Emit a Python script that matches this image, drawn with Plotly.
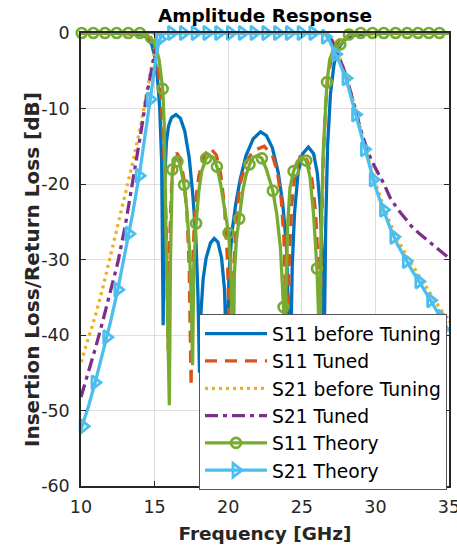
import plotly.graph_objects as go

# ---------------- data ----------------
# S11 before tuning
s11b_f = [10, 13, 14, 14.5, 14.8, 15.0, 15.2, 15.35, 15.48, 15.58, 15.68, 15.8, 15.95, 16.15, 16.45,
          16.75, 17.05, 17.35, 17.6, 17.8, 17.95, 18.05, 18.15, 18.3, 18.5, 18.8, 19.05, 19.3, 19.55,
          19.75, 19.92, 20.05, 20.25, 20.5, 20.8, 21.2, 21.7, 22.2, 22.6, 23.0, 23.4, 23.7, 23.95,
          24.12, 24.22, 24.35, 24.5, 24.75, 25.05, 25.45, 25.8, 26.05, 26.25, 26.4, 26.52, 26.62,
          26.75, 26.95, 27.2, 27.5, 27.9, 28.5, 30, 35]
s11b_db = [0, -0.05, -0.2, -0.6, -1.5, -3.0, -6.0, -10, -17, -38.7, -20, -14.5, -12.3, -11.2, -10.8,
           -11.3, -13.0, -16.5, -21.5, -27, -35, -45, -37, -32.5, -29.8, -27.8, -27.2, -27.7, -29.8,
           -34, -45, -32, -26.5, -22.8, -19.5, -16.3, -14.0, -13.1, -13.6, -15.2, -18.5, -22.5, -28,
           -38, -45, -31, -24, -18.5, -16.0, -15.1, -16.0, -18.5, -23, -30, -42, -26,
           -15, -8, -4, -2, -0.9, -0.3, -0.05, 0]

# S11 tuned
s11t_f = [10, 13, 14, 14.6, 14.9, 15.1, 15.3, 15.5, 15.7, 15.82, 15.92, 16.02, 16.15, 16.3, 16.5,
          16.75, 17.0, 17.2, 17.35, 17.48, 17.6, 17.75, 18.0, 18.35, 18.78, 19.2, 19.5, 19.75, 19.95,
          20.1, 20.22, 20.35, 20.55, 20.8, 21.2, 21.7, 22.45, 23.0, 23.35, 23.6, 23.78, 23.9, 24.0,
          24.12, 24.3, 24.55, 24.95, 25.35, 25.7, 25.95, 26.12, 26.22, 26.32, 26.45, 26.6, 26.8,
          27.1, 27.5, 28.0, 29, 35]
s11t_db = [0, -0.05, -0.2, -0.6, -1.5, -3.0, -5.8, -10.5, -19, -28, -42, -28, -20.5, -17.2, -15.9,
           -16.6, -19.5, -24, -31, -46.8, -30, -23, -19, -16.3, -15.2, -16.2, -18.8, -23, -30,
           -40, -48, -32, -24.5, -20, -17.2, -15.6, -15.0, -16.2, -18.5, -22, -27, -34, -46,
           -32, -23, -18.5, -16.0, -16.8, -19.5, -24, -31, -45, -28, -17, -10, -5.5,
           -2.5, -1.0, -0.35, -0.05, 0]

# S21 before tuning
s21b_f = [10, 10.5, 11, 11.5, 12, 12.5, 13, 13.5, 14, 14.5, 14.8, 15.0, 15.2, 15.4, 15.7, 16,
          26.3, 26.5, 26.8, 27.1, 27.5, 28, 28.5, 29, 29.5, 30, 30.5, 31, 31.5, 32, 32.5, 33,
          33.5, 34, 34.5, 35]
s21b_db = [-43.6, -40.6, -37.3, -33.6, -29.6, -25.5, -21.5, -17.3, -12.8, -7.5, -4.2, -2.3, -0.9,
           -0.2, 0, 0, 0, -0.05, -0.3, -1.0, -2.8, -5.5, -9.0, -12.9, -16.5, -19.8, -22.7, -25.2,
           -27.3, -29.1, -30.8, -32.3, -33.8, -35.3, -36.8, -38.3]

# S21 tuned
s21t_f = [10, 10.5, 11, 11.5, 12, 12.5, 13, 13.5, 14, 14.5, 14.8, 15.0, 15.2, 15.4, 15.7, 16,
          26.3, 26.5, 26.8, 27.1, 27.4, 27.85, 28.3, 28.7, 29, 29.5, 30, 30.56, 31, 31.5, 31.93,
          32.5, 33, 33.5, 34, 34.5, 35]
s21t_db = [-48.2, -45.0, -41.6, -38.0, -34.3, -30.4, -25.6, -20.0, -14.0, -7.8, -4.6, -2.8, -1.3,
           -0.4, -0.05, 0, 0, -0.05, -0.3, -1.2, -2.5, -4.8, -7.7, -10.5, -12.8, -15.8, -17.9,
           -19.9, -21.8, -23.3, -24.3, -25.7, -26.6, -27.4, -28.3, -29.1, -29.8]

# S11 theory (line)
s11th_f = [10, 13.5, 14.2, 14.75, 15.05, 15.3, 15.55, 15.65, 15.75, 15.88, 16.0, 16.08, 16.15, 16.2,
           16.35, 16.5, 16.7, 17.0, 17.2, 17.38, 17.5, 17.58, 17.66, 17.82, 18.0, 18.2, 18.5, 18.72,
           19.0, 19.23, 19.5, 19.8, 20.02, 20.15, 20.25, 20.32, 20.42, 20.55, 20.75, 21.0, 21.2,
           21.45, 21.7, 22.0, 22.29, 22.6, 22.8, 23.03, 23.3, 23.55, 23.76, 23.84, 23.92, 24.05,
           24.2, 24.44, 24.7, 25.0, 25.3, 25.55, 25.8, 26.03, 26.15, 26.22, 26.3, 26.45, 26.71,
           26.9, 27.15, 27.4, 27.62, 27.9, 28.2, 28.6, 29, 35]
s11th_db = [0, 0, -0.15, -0.6, -1.6, -3.5, -7.4, -12, -24, -35, -49.3, -30, -21, -18.1,
            -16.9, -16.7, -17.2, -20.1, -23.5, -29, -36, -44, -31, -25.2, -21, -18.3, -16.6, -16.2,
            -16.5, -17.7, -20.2, -23.8, -26.5, -30, -37, -48, -32, -27.5, -24.6, -20.8, -18.9,
            -17.4, -16.5, -16.2, -16.6, -18.1, -19.4, -20.9, -24, -28.5, -36.3, -48, -34, -25,
            -20.5, -18.3, -17.0, -16.5, -16.9, -19, -24, -31.2, -38, -48, -28, -16, -6.5,
            -3.5, -2.2, -1.8, -1.5, -0.8, -0.2, -0.05, 0, 0]

# S11 theory (marker points)
s11th_mf = [10.05, 10.84, 11.63, 12.42, 13.21, 14.0, 14.75, 15.55, 16.2, 16.55, 17.0, 17.82, 18.5,
            19.23, 20.02, 20.75, 21.45, 22.29, 23.03, 23.76, 24.44, 25.3, 26.03, 26.71, 27.62,
            28.2, 29.0, 29.8, 30.57, 31.37, 32.16, 32.9, 33.63, 34.35, 35.05]
s11th_mdb = [0, 0, 0, 0, 0, 0, -0.6, -7.4, -18.1, -17.0, -20.1, -25.2, -16.6,
             -17.7, -26.5, -24.6, -17.4, -16.6, -20.9, -36.3, -18.3, -16.9, -31.2, -6.5, -1.5,
             -0.2, 0, 0, 0, 0, 0, 0, 0, 0, 0]

# S21 theory (line)
s21th_f = [10, 10.5, 11, 11.5, 12, 12.5, 13, 13.5, 14, 14.5, 14.8, 15.0, 15.2, 15.4, 15.6, 16,
           26.3, 26.6, 26.85, 27.2, 27.5, 28, 28.5, 29, 29.5, 30, 30.5, 31, 31.5, 32, 32.5, 33,
           33.5, 34, 34.5, 35]
s21th_db = [-52.5, -49.5, -46, -42.3, -38.3, -34, -29.2, -24, -18.3, -11.8, -7.5, -4.5, -2, -0.6,
            -0.1, 0, 0, -0.2, -0.86, -2.4, -3.6, -6.0, -9.6, -13.5, -17.2, -20.4, -23.2, -25.8,
            -28.0, -29.8, -31.5, -33.0, -34.6, -36.2, -37.8, -39.5]

# S21 theory (marker points)
s21th_mf = [10.15, 10.95, 11.75, 12.5, 13.25, 13.95, 14.7, 15.35, 16.15, 16.95, 17.75, 18.55,
            19.35, 20.15, 20.95, 21.75, 22.55, 23.35, 24.15, 24.95, 25.75, 26.6, 27.3, 28.0,
            28.65, 29.25, 29.85, 30.55, 31.25, 32.1, 32.95, 33.75, 34.45, 35.05]
s21th_mdb = [-52.1, -46.3, -40.3, -34.0, -26.6, -18.9, -8.8, -0.8, 0, 0, 0, 0,
             0, 0, 0, 0, 0, 0, 0, 0, 0, -0.5, -2.8, -6.0,
             -10.8, -15.4, -19.4, -23.4, -27.0, -30.2, -32.9, -35.4, -37.6, -39.7]

x_ticks = [10, 15, 20, 25, 30, 35]
y_ticks = [-60, -50, -40, -30, -20, -10, 0]

names = ["S11 before Tuning", "S11 Tuned", "S21 before Tuning", "S21 Tuned",
         "S11 Theory", "S21 Theory"]
colors = ["#0072BD", "#D95319", "#EDB120", "#7E2F8E", "#77AC30", "#4DBEEE"]

# ---------------- figure ----------------
FONT = "DejaVu Sans"
LW = 3.3


def isolated(xs, ys):
    """Interleave None so that only markers are drawn (legend still shows line+marker)."""
    ox, oy = [], []
    for a, b in zip(xs, ys):
        ox += [a, None]
        oy += [b, None]
    return ox, oy


fig = go.Figure()

fig.add_trace(go.Scatter(x=s11b_f, y=s11b_db, mode="lines", name=names[0], legendgroup="g1",
                         line=dict(color=colors[0], width=LW), cliponaxis=False))
fig.add_trace(go.Scatter(x=s11t_f, y=s11t_db, mode="lines", name=names[1], legendgroup="g2",
                         line=dict(color=colors[1], width=LW, dash="12px,8px"), cliponaxis=False))
fig.add_trace(go.Scatter(x=s21b_f, y=s21b_db, mode="lines", name=names[2], legendgroup="g3",
                         line=dict(color=colors[2], width=LW, dash="3px,4px"), cliponaxis=False))
fig.add_trace(go.Scatter(x=s21t_f, y=s21t_db, mode="lines", name=names[3], legendgroup="g4",
                         line=dict(color=colors[3], width=LW, dash="13px,5px,4px,5px"),
                         cliponaxis=False))

# S11 theory
fig.add_trace(go.Scatter(x=s11th_f, y=s11th_db, mode="lines", legendgroup="g5", showlegend=False,
                         line=dict(color=colors[4], width=LW), cliponaxis=False, hoverinfo="skip"))
mx, my = isolated(s11th_mf, s11th_mdb)
fig.add_trace(go.Scatter(x=mx, y=my, mode="lines+markers", name=names[4], legendgroup="g5",
                         line=dict(color=colors[4], width=LW),
                         marker=dict(symbol="circle-open", size=10, color=colors[4],
                                     line=dict(width=2.6, color=colors[4])),
                         cliponaxis=False))

# S21 theory
fig.add_trace(go.Scatter(x=s21th_f, y=s21th_db, mode="lines", legendgroup="g6", showlegend=False,
                         line=dict(color=colors[5], width=LW), cliponaxis=False, hoverinfo="skip"))
mx, my = isolated(s21th_mf, s21th_mdb)
fig.add_trace(go.Scatter(x=mx, y=my, mode="lines+markers", name=names[5], legendgroup="g6",
                         line=dict(color=colors[5], width=LW),
                         marker=dict(symbol="triangle-right-open", size=12, color=colors[5],
                                     line=dict(width=2.8, color=colors[5])),
                         cliponaxis=False))

axis_common = dict(
    showline=True, linecolor="#262626", linewidth=1.5, mirror="ticks",
    ticks="inside", ticklen=5, tickwidth=1.3, tickcolor="#262626",
    showgrid=True, gridcolor="#dfdfdf", gridwidth=1, zeroline=False,
    tickfont=dict(family=FONT, size=17.5, color="#262626"),
    ticklabeloverflow="allow",
)

fig.update_layout(
    width=457, height=551,
    margin=dict(l=81, r=8, t=33, b=65, autoexpand=False),
    paper_bgcolor="white", plot_bgcolor="white",
    title=dict(text="Amplitude Response", x=0.5, xref="paper", xanchor="center",
               y=1 - 15.5 / 551, yref="container", yanchor="middle",
               font=dict(family=FONT, size=18.5, color="black", weight="bold")),
    xaxis=dict(range=[10, 35], tickvals=x_ticks, ticktext=[str(v) for v in x_ticks],
               title=dict(text="Frequency [GHz]", standoff=11,
                          font=dict(family=FONT, size=18.5, color="#262626", weight="bold")),
               ticklabelstandoff=4, automargin=False, **axis_common),
    yaxis=dict(range=[-60, 0], tickvals=y_ticks, ticktext=[str(v) for v in y_ticks],
               ticklabelstandoff=6, automargin=False, **axis_common),
    annotations=[dict(text="<b>Insertion Loss/Return Loss [dB]</b>", textangle=-90,
                      xref="paper", yref="paper", x=(32 - 81) / 368, y=(486 - 270) / 453,
                      xanchor="center", yanchor="middle", showarrow=False,
                      font=dict(family=FONT, size=20, color="#262626"))],
    legend=dict(x=(199 - 81) / 368, y=(486 - 314) / 453, xanchor="left", yanchor="top",
                bgcolor="white", bordercolor="#555555", borderwidth=1,
                font=dict(family=FONT, size=18.7, color="black"),
                itemwidth=62, tracegroupgap=0, traceorder="grouped"),
    showlegend=True,
)

fig.write_html("out.html")
